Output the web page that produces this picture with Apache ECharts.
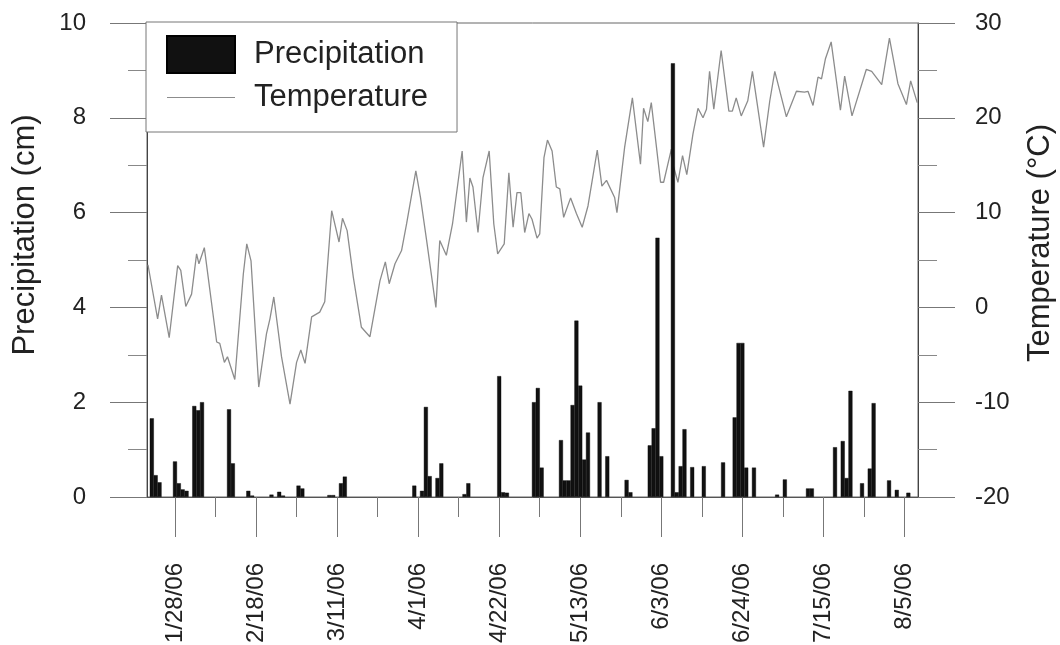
<!DOCTYPE html>
<html>
<head>
<meta charset="utf-8">
<script src="https://cdn.jsdelivr.net/npm/echarts@6/dist/echarts.min.js"></script>
<style>
html,body{margin:0;padding:0;background:#fff;}
#chart{width:1060px;height:645px;}
</style>
</head>
<body>
<div id="chart"></div>
<script>
// Day index: 0 = 1/21/06
const tickDays = [7, 28, 49, 70, 91, 112, 133, 154, 175, 196];
const tickLabels = ['1/28/06','2/18/06','3/11/06','4/1/06','4/22/06','5/13/06','6/3/06','6/24/06','7/15/06','8/5/06'];
const midTickDays = [17.5, 38.5, 59.5, 80.5, 101.5, 122.5, 143.5, 164.5, 185.5];

const precipDays = [1,2,3,7,8,9,10,12,13,14,21,22,26,27,32,34,35,39,40,47,48,50,51,69,71,72,73,75,76,82,83,91,92,93,100,101,102,107,108,109,110,111,112,113,114,117,119,124,125,130,131,132,133,136,137,138,139,141,144,149,152,153,154,155,157,163,165,171,172,178,180,181,182,185,187,188,192,194,197];
const precipValues = [1.66,0.46,0.31,0.75,0.29,0.16,0.13,1.92,1.83,2.0,1.85,0.71,0.13,0.03,0.05,0.11,0.03,0.24,0.18,0.04,0.04,0.29,0.43,0.24,0.13,1.9,0.44,0.40,0.71,0.06,0.29,2.55,0.1,0.09,2.0,2.3,0.62,1.2,0.35,0.35,1.94,3.72,2.35,0.79,1.36,2.0,0.86,0.36,0.1,1.09,1.45,5.47,0.86,9.15,0.1,0.65,1.43,0.63,0.65,0.73,1.68,3.25,3.25,0.62,0.62,0.05,0.37,0.18,0.18,1.05,1.18,0.4,2.24,0.29,0.6,1.98,0.35,0.15,0.09];

const tempDays = [0,2.5,3.5,5.5,7.7,8.5,9.8,11.3,12.6,13.2,14.6,17.8,18.6,19.8,20.6,22.5,24.7,25.6,26.7,28.7,30.7,31.6,32.6,34.6,36.8,38.5,39.6,40.7,42.4,44.5,45.8,47.6,49.5,50.4,51.6,53.2,55.3,57.5,60.1,61.5,62.5,64.0,65.7,67.0,69.4,70.6,72.2,74.6,75.6,77.3,78.9,81.4,82.5,83.4,84.2,85.5,86.8,88.4,89.6,90.6,92.3,93.5,94.0,94.6,95.6,96.6,97.6,98.7,99.5,100.8,101.5,102.6,103.5,104.7,105.8,106.7,107.7,109.5,111.0,112.5,114.0,116.4,117.6,118.8,120.9,121.5,123.5,125.5,127.6,128.4,129.5,130.4,132.8,133.6,135.6,136.0,137.3,138.5,139.6,141.2,142.5,143.8,144.7,145.5,146.6,148.5,150.5,151.4,152.4,153.7,155.4,156.6,159.5,161.1,162.4,165.4,168.0,170.1,171.0,172.3,173.6,174.5,175.5,177.0,179.4,180.5,182.4,186.1,187.5,190.1,192.1,194.3,196.5,197.6,199.3];
const tempValues = [4.5,-1.2,1.3,-3.2,4.4,3.9,0.1,1.4,5.65,4.6,6.3,-3.65,-3.8,-5.8,-5.2,-7.6,3.5,6.7,4.9,-8.4,-2.8,-1.2,1.1,-5.2,-10.2,-5.8,-4.5,-5.9,-1.0,-0.5,0.6,10.2,6.9,9.4,8.1,3.2,-2.1,-3.1,2.8,4.8,2.5,4.6,6.0,8.8,14.4,11.6,7.05,0.0,7.05,5.5,8.8,16.5,9.0,13.65,12.7,7.9,13.7,16.5,8.8,5.65,6.7,14.2,11.6,8.45,12.1,12.1,7.9,9.9,9.3,7.3,7.75,15.8,17.65,16.5,12.7,12.5,9.5,11.55,9.9,8.45,10.7,16.6,12.8,13.4,11.6,10.0,16.9,22.1,15.1,21.0,19.6,21.6,13.2,13.2,16.7,15.1,13.2,16.0,14.0,18.3,21.0,20.0,20.9,24.9,20.9,27.1,20.7,20.7,22.1,20.2,21.8,24.9,16.9,21.8,24.9,20.1,22.8,22.7,22.8,21.3,24.3,24.1,26.2,28.0,20.8,24.4,20.2,25.1,24.9,23.5,28.4,23.6,21.4,23.9,21.6];

const FONT = "'Liberation Sans', Arial, sans-serif";
const precipData = precipDays.map((d, i) => [d, precipValues[i]]);
const tempData = tempDays.map((d, i) => [d, tempValues[i]]);
const labelFor = v => { const i = tickDays.indexOf(v); return i >= 0 ? tickLabels[i] : ''; };

const chart = echarts.init(document.getElementById('chart'), null, {renderer: 'canvas'});
chart.setOption({
  animation: false,
  backgroundColor: '#fff',
  grid: { left: 147, right: 142, top: 23, bottom: 148, containLabel: false, outerBoundsMode: 'none', show: true, borderColor: '#666', borderWidth: 1, backgroundColor: 'transparent' },
  legend: {
    left: 146, top: 22, orient: 'vertical',
    itemWidth: 68, itemHeight: 37, itemGap: 8,
    padding: [13, 29, 19, 20],
    borderColor: '#777', borderWidth: 1, backgroundColor: '#fff',
    textStyle: { fontSize: 31, fontFamily: FONT, color: '#222', padding: [0, 0, 0, 14] },
    data: [
      { name: 'Precipitation', icon: 'rect' },
      { name: 'Temperature', icon: 'path://M0,0 L68,0 L68,1 L0,1 Z', itemStyle: { color: '#8c8c8c', borderWidth: 0 } }
    ]
  },
  xAxis: [
    {
      type: 'value', min: -0.25, max: 199.5, position: 'bottom',
      axisLine: { show: true, onZero: false, lineStyle: { color: '#555', width: 1 } },
      axisTick: { show: true, customValues: tickDays, length: 40, lineStyle: { color: '#777' } },
      axisLabel: { customValues: tickDays, rotate: 90, margin: 66, fontSize: 24, fontFamily: FONT, color: '#222', formatter: labelFor },
      splitLine: { show: false }
    },
    {
      type: 'value', min: -0.25, max: 199.5, position: 'bottom',
      axisLine: { show: false, onZero: false },
      axisTick: { show: true, customValues: midTickDays, length: 20, lineStyle: { color: '#777' } },
      axisLabel: { show: false },
      splitLine: { show: false }
    }
  ],
  yAxis: [
    {
      type: 'value', min: 0, max: 10, interval: 2, position: 'left',
      name: 'Precipitation (cm)', nameLocation: 'middle', nameRotate: 90, nameGap: 106,
      nameTextStyle: { fontSize: 31, fontFamily: FONT, color: '#222', padding: [0, 0, 0, 50] },
      axisLine: { show: true, onZero: false, lineStyle: { color: '#444' } },
      axisTick: { show: true, length: 37, lineStyle: { color: '#777' } },
      minorTick: { show: true, splitNumber: 2, length: 19, lineStyle: { color: '#888' } },
      axisLabel: { margin: 61, fontSize: 24, fontFamily: FONT, color: '#222' },
      splitLine: { show: false }
    },
    {
      type: 'value', min: -20, max: 30, interval: 10, position: 'right',
      name: 'Temperature (°C)', nameLocation: 'middle', nameRotate: 90, nameGap: 107,
      nameTextStyle: { fontSize: 31, fontFamily: FONT, color: '#222', padding: [0, 0, 0, 34] },
      axisLine: { show: true, onZero: false, lineStyle: { color: '#444' } },
      axisTick: { show: true, length: 37, lineStyle: { color: '#777' } },
      minorTick: { show: true, splitNumber: 2, length: 19, lineStyle: { color: '#888' } },
      axisLabel: { margin: 57, fontSize: 24, fontFamily: FONT, color: '#222' },
      splitLine: { show: false }
    }
  ],
  series: [
    {
      name: 'Temperature', type: 'line', xAxisIndex: 0, yAxisIndex: 1,
      data: tempData, symbol: 'none', smooth: false,
      lineStyle: { color: '#8c8c8c', width: 1.3 }, itemStyle: { color: '#8c8c8c' }, z: 2
    },
    {
      name: 'Precipitation', type: 'bar', xAxisIndex: 0, yAxisIndex: 0,
      data: precipData, barWidth: 4,
      itemStyle: { color: '#111', borderColor: '#000', borderWidth: 0.4 }, z: 3
    }
  ]
});
</script>
</body>
</html>
